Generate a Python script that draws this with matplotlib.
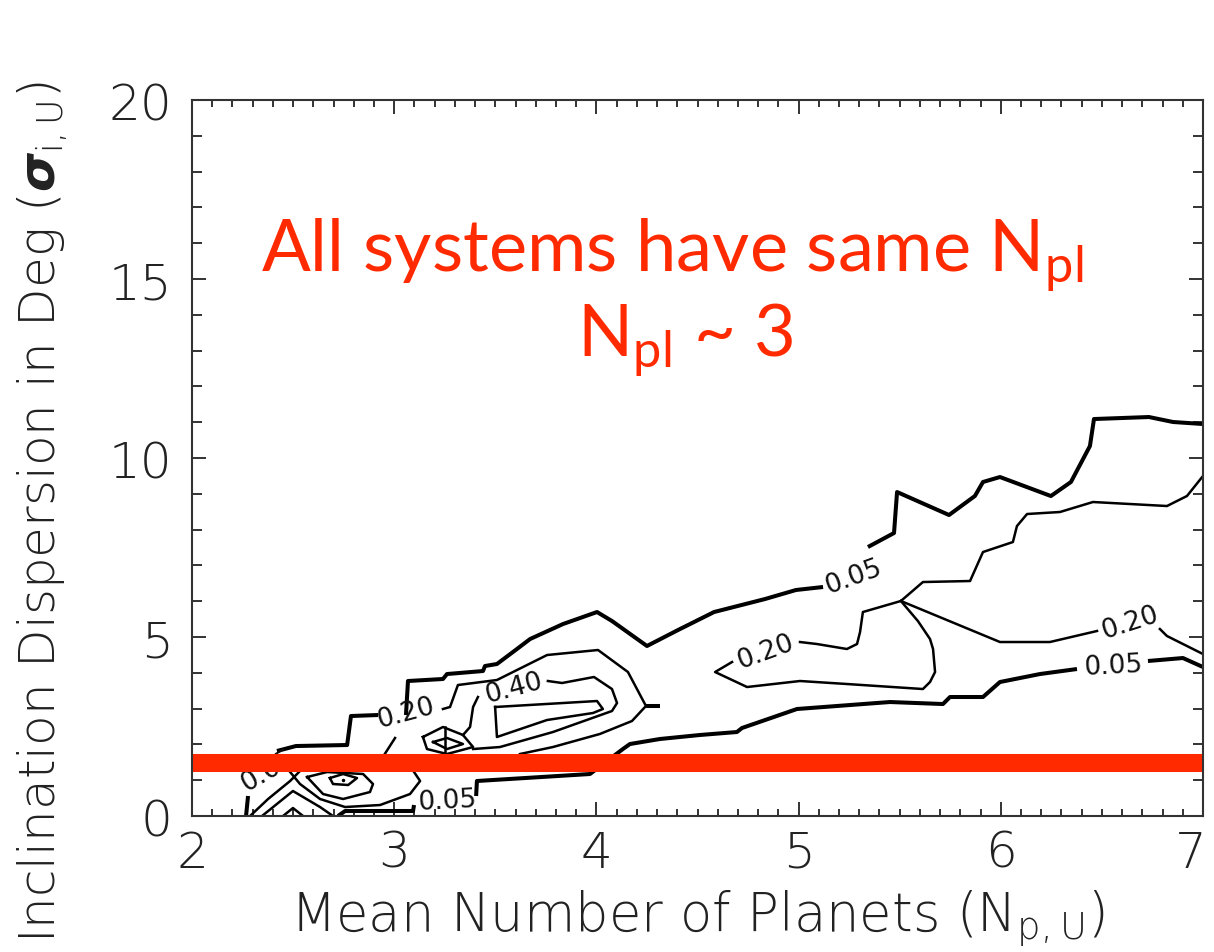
import numpy as np
import matplotlib.pyplot as plt
from matplotlib.ticker import MultipleLocator, FuncFormatter

plt.rcParams['mathtext.fontset'] = 'custom'
plt.rcParams['mathtext.rm'] = 'Lato'
plt.rcParams['mathtext.sf'] = 'DejaVu Sans:weight=light'
plt.rcParams['mathtext.bfit'] = 'DejaVu Sans:italic:bold'

RED = '#ff2a00'
AXIS_FONT = dict(family='DejaVu Sans', weight='light')

# ---- probability contours, (N_p, sigma_i) vertices -------------------------
# level 0.05 (drawn thick)
c05_upper_left = [(2.267, 0.0), (2.277, 0.559)]
c05_upper_a = [(2.420, 1.816), (2.514, 1.955), (2.767, 1.983), (2.786, 2.793),
               (2.920, 2.821)]
c05_upper_b = [(3.058, 2.821), (3.068, 3.771), (3.241, 3.827), (3.261, 3.966),
               (3.439, 4.050), (3.449, 4.190), (3.508, 4.246), (3.607, 4.665),
               (3.672, 4.944), (3.835, 5.363), (4.003, 5.698), (4.077, 5.447),
               (4.250, 4.749), (4.404, 5.196), (4.582, 5.698), (4.834, 6.061),
               (4.987, 6.313), (5.121, 6.397)]
c05_upper_c = [(5.343, 7.514), (5.472, 7.905), (5.487, 9.050), (5.744, 8.408),
               (5.872, 8.939), (5.912, 9.330), (5.996, 9.469), (6.248, 8.938),
               (6.347, 9.330), (6.441, 10.335), (6.461, 11.089), (6.733, 11.145),
               (6.852, 11.006), (7.0, 10.950)]
c05_stub = [(4.245, 3.073), (4.314, 3.073)]
c05_lower_a = [(2.722, 0.0), (2.757, 0.140), (3.093, 0.140), (3.098, 0.307)]
c05_lower_b = [(3.405, 0.559), (3.409, 0.978), (3.968, 1.173), (4.131, 1.871),
               (4.166, 2.011), (4.314, 2.151), (4.512, 2.263), (4.695, 2.346),
               (4.720, 2.458), (4.992, 2.989), (5.452, 3.184), (5.714, 3.128),
               (5.749, 3.324), (5.912, 3.324), (5.996, 3.743), (6.194, 3.966),
               (6.377, 4.106)]
c05_lower_c = [(6.728, 4.330), (6.901, 4.413), (7.0, 4.162)]

# level 0.20 and above (drawn thin)
c20_right_a = [(5.007, 4.860), (5.091, 4.804), (5.239, 4.665), (5.289, 4.804),
               (5.304, 5.140), (5.318, 5.698), (5.506, 6.006), (5.615, 6.536),
               (5.848, 6.564), (5.912, 7.374), (6.060, 7.653), (6.080, 8.100),
               (6.130, 8.436), (6.293, 8.492), (6.456, 8.771), (6.822, 8.659),
               (6.921, 8.939), (7.0, 9.497)]
c20_right_b = [(5.506, 6.006), (5.590, 5.447), (5.650, 4.944), (5.665, 4.665),
               (5.675, 4.022), (5.650, 3.743), (5.615, 3.547), (5.239, 3.687),
               (5.007, 3.771), (4.745, 3.603), (4.587, 4.022), (4.671, 4.302)]
c20_right_c = [(5.506, 6.006), (5.996, 4.860), (6.243, 4.860), (6.476, 5.168)]
c20_right_d = [(6.787, 5.223), (6.822, 5.028), (7.0, 4.525)]
c20_left = [(3.241, 2.989), (3.276, 3.045), (3.315, 3.659), (3.508, 3.799),
            (3.756, 4.497), (4.008, 4.637), (4.156, 4.022), (4.245, 3.073),
            (4.176, 2.654), (4.017, 2.291), (3.785, 1.927), (3.622, 1.732)]
c20_left_tail = [(2.950, 1.704), (3.004, 2.179)]
c40_a = [(3.760, 3.771), (3.830, 3.715), (3.988, 3.883), (4.077, 3.547),
         (4.102, 3.156), (4.077, 2.933), (3.785, 2.346), (3.523, 1.927),
         (3.390, 1.871)]
c40_b = [(3.414, 3.324), (3.390, 3.045), (3.375, 2.486), (3.340, 2.263)]
c40_hex = [(3.142, 2.207), (3.241, 2.486), (3.340, 2.263), (3.390, 1.927),
           (3.261, 1.732), (3.162, 1.871), (3.142, 2.207)]
c60_loop = [(3.499, 3.045), (4.003, 3.212), (4.032, 2.989), (3.983, 2.877),
            (3.756, 2.682), (3.508, 2.207), (3.499, 3.045)]
c60_diamond = [(3.192, 2.067), (3.261, 2.179), (3.340, 2.011), (3.261, 1.871),
               (3.192, 2.067)]
c60_cross = [(3.251, 2.486), (3.251, 1.704)]

# low-N corner, below the highlighted band
low_a = [(2.287, 0.0), (2.376, 0.475), (2.485, 0.978), (2.534, 1.257)]
low_b = [(2.346, 0.0), (2.499, 0.698), (2.633, 0.251), (2.697, 0.0)]
low_c = [(2.450, 0.0), (2.499, 0.223), (2.549, 0.0)]
low_hex = [(2.569, 1.089), (2.668, 1.229), (2.846, 1.173), (2.895, 0.894),
           (2.880, 0.670), (2.747, 0.475), (2.648, 0.614), (2.569, 1.089)]
low_inner = [(2.682, 1.061), (2.747, 1.173), (2.816, 1.061), (2.772, 0.866),
             (2.697, 0.894), (2.682, 1.061)]
low_peak = [(2.747, 1.006)]
low_d = [(2.485, 1.229), (2.534, 0.894), (2.633, 0.475), (2.757, 0.251),
         (2.930, 0.307), (3.078, 0.614), (3.128, 0.978), (3.098, 1.229)]

thick_lines = [c05_upper_left, c05_upper_a, c05_upper_b, c05_upper_c, c05_stub,
               c05_lower_a, c05_lower_b, c05_lower_c]
thin_lines = [c20_right_a, c20_right_b, c20_right_c, c20_right_d, c20_left,
              c20_left_tail, c40_a, c40_b, c40_hex, c60_loop, c60_diamond,
              c60_cross, low_a, low_b, low_c, low_hex, low_inner, low_d]

# contour labels: text, x, y, rotation
level_labels = [('0.05', 2.376, 1.285, 30), ('0.20', 3.058, 2.877, 15),
                ('0.40', 3.592, 3.575, 15), ('0.05', 3.261, 0.447, 3),
                ('0.05', 5.269, 6.704, 20), ('0.20', 4.834, 4.609, 20),
                ('0.20', 6.639, 5.419, 18), ('0.05', 6.555, 4.218, 3)]

n_pl_line = 1.48   # sigma_i of the highlighted band
x_max = 7

fig = plt.figure(figsize=(12.14, 9.53), dpi=100)
ax = fig.add_axes([0.1582, 0.1427, 0.8327, 0.7513])

for seg in thick_lines:
    seg = np.array(seg)
    ax.plot(seg[:, 0], seg[:, 1], color='black', lw=2.9, zorder=2,
            solid_joinstyle='round', solid_capstyle='butt')
for seg in thin_lines:
    seg = np.array(seg)
    ax.plot(seg[:, 0], seg[:, 1], color='black', lw=1.8, zorder=2,
            solid_joinstyle='round')
pk = np.array(low_peak)
ax.plot(pk[:, 0], pk[:, 1], 'k.', ms=3, zorder=2)

for txt, x, y, rot in level_labels:
    ax.text(x, y, txt, fontsize=19, rotation=rot, ha='center', va='center',
            rotation_mode='anchor', zorder=2.2, color='#111111')

ax.axhline(n_pl_line, color=RED, lw=13, zorder=2.4, solid_capstyle='butt')

ax.set_xlim(2, x_max)
ax.set_ylim(0, 20)
ax.xaxis.set_major_locator(MultipleLocator(1))
ax.xaxis.set_minor_locator(MultipleLocator(0.1))
ax.yaxis.set_major_locator(MultipleLocator(5))
ax.yaxis.set_minor_locator(MultipleLocator(1))
# the last x label is drawn separately so it stays inside the figure
ax.xaxis.set_major_formatter(
    FuncFormatter(lambda v, p: '' if v > x_max - 0.5 else f'{v:g}'))
ax.tick_params(which='both', direction='in', top=True, right=True,
               color='#333333', width=1.4)
ax.tick_params(axis='x', which='major', length=10, pad=9)
ax.tick_params(axis='x', which='minor', length=5)
ax.tick_params(axis='y', which='major', length=10, pad=14)
ax.tick_params(axis='y', which='minor', length=7)
for lab in ax.get_xticklabels() + ax.get_yticklabels():
    lab.set_fontfamily(AXIS_FONT['family'])
    lab.set_fontweight(AXIS_FONT['weight'])
    lab.set_fontsize(36)
    lab.set_color('#222222')
ax.annotate(f'{x_max:g}', xy=(x_max, 0), xycoords=('data', 'axes fraction'),
            xytext=(3, -9), textcoords='offset points', ha='right', va='top',
            fontsize=36, color='#222222', **AXIS_FONT)
for sp in ax.spines.values():
    sp.set_color('#333333')
    sp.set_linewidth(1.5)

fig.text(698 / 1214, 1 - 930 / 953, r'Mean Number of Planets ($\mathsf{N_{p,U}}$)',
         ha='center', va='baseline', fontsize=38, color='#222222', **AXIS_FONT)
fig.text(42 / 1214, 1 - 512 / 953,
         r'Inclination Dispersion in Deg ($\mathbfit{\sigma}_{\mathsf{i,U}}$)',
         ha='center', va='center', rotation=90, fontsize=36, color='#222222',
         **AXIS_FONT)

ax.text(0.475, 0.761, r'All systems have same N$_{\mathrm{pl}}$',
        transform=ax.transAxes, ha='center', va='baseline', fontsize=52,
        family='Lato', color=RED, zorder=5)
ax.text(0.488, 0.642, r'N$_{\mathrm{pl}}$ ~ 3', transform=ax.transAxes,
        ha='center', va='baseline', fontsize=52, family='Lato', color=RED,
        zorder=5)

fig.savefig('out.png', dpi=100)
